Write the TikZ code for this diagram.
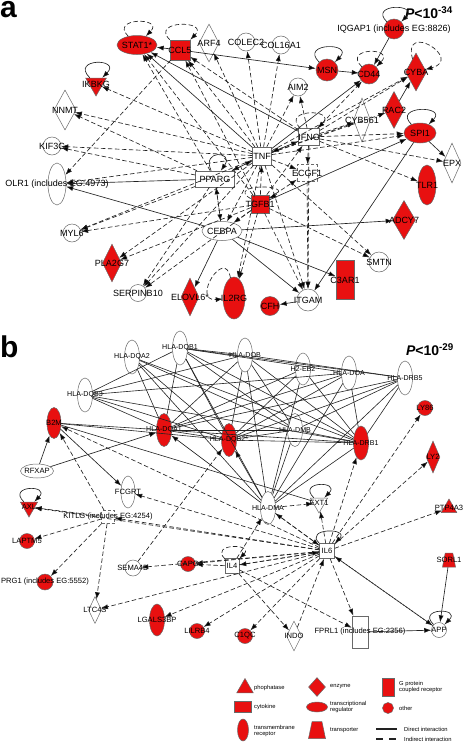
\documentclass[tikz,border=0pt]{standalone}
\usepackage{fontspec}
\setmainfont{Liberation Sans}
\usetikzlibrary{arrows.meta, shapes.geometric, positioning}
\definecolor{ipared}{RGB}{232,16,16}
\definecolor{edgeink}{RGB}{34,34,34}
\definecolor{rim}{RGB}{105,105,105}
\newcommand{\labA}{\fontsize{9}{9}\selectfont}
\newcommand{\labB}{\fontsize{7.6}{7.6}\selectfont}
\newcommand{\labH}{\fontsize{7.1}{7.1}\selectfont}
\newcommand{\labL}{\fontsize{5.8}{6.6}\selectfont}
\tikzset{
  mol/.style={draw=rim, line width=0.5pt, inner sep=0pt, fill=white},
  hit/.style={fill=ipared},
  circ/.style={mol, circle, minimum size=#1},
  ovl/.style 2 args={mol, ellipse, minimum width=#1, minimum height=#2},
  box/.style 2 args={mol, rectangle, minimum width=#1, minimum height=#2},
  dmd/.style 2 args={mol, diamond, minimum width=#1, minimum height=#2},
  kin/.style={mol, regular polygon, regular polygon sides=3, shape border rotate=180, minimum size=#1},
  phos/.style={mol, regular polygon, regular polygon sides=3, minimum size=#1},
  trans/.style 2 args={mol, trapezium, inner sep=1pt, trapezium stretches=true, trapezium left angle=70, trapezium right angle=70, minimum width=#1, minimum height=#2},
  dir/.style={draw=edgeink, line width=0.65pt, -{Latex[length=7pt,width=5pt]}},
  ind/.style={dir, dash pattern=on 4.5pt off 2.5pt},
  lnk/.style={draw=edgeink, line width=0.6pt},
  selfloop/.style={out=135, in=45, min distance=#1},
  legtext/.style={font=\labL, anchor=west, align=left, inner sep=0pt}
}

\begin{document}
\begin{tikzpicture}[x=1pt, y=-1pt]
  \useasboundingbox (0,0) rectangle (464,744);

  % Panel letters and scores
  \node[font=\fontsize{30}{30}\selectfont\bfseries, anchor=base west, inner sep=0pt] (tagA) at (0,17.5) {a};
  \node[font=\fontsize{30}{30}\selectfont\bfseries, anchor=base west, inner sep=0pt] (tagB) at (0,357) {b};
  \node[font=\fontsize{14}{14}\selectfont\bfseries] (scoreA) at (429,13) {\textit{P}<10\textsuperscript{-34}};
  \node[font=\fontsize{14}{14}\selectfont\bfseries] (scoreB) at (430,350) {\textit{P}<10\textsuperscript{-29}};

  % Panel a: molecules
  \begin{scope}[every label/.append style={font=\labA}]
    \node[ovl={40}{19}, hit, label={center:STAT1*}] (stat1) at (137,45) {};
    \node[box={20}{20}, hit, label={center:CCL5}] (ccl5) at (180,50) {};
    \node[dmd={20}{38}, label={center:ARF4}] (arf4) at (209,43) {};
    \node[circ=18, label={center:COLEC2}] (colec2) at (246,42) {};
    \node[circ=18, label={center:COL16A1}] (col16a1) at (281,45) {};
    \node[circ=20, hit, label={center:{IQGAP1 (includes EG:8826)}}] (iqgap1) at (394,29) {};
    \node[circ=22, hit, label={center:MSN}] (msn) at (327,70) {};
    \node[circ=20, hit, label={center:CD44}] (cd44) at (369,74) {};
    \node[dmd={21}{38}, hit, label={center:CYBA}] (cyba) at (416,72) {};
    \node[circ=18, label={center:AIM2}] (aim2) at (298,87) {};
    \node[dmd={20}{37}, hit, label={center:RAC2}] (rac2) at (394,110) {};
    \node[dmd={17}{44}, label={center:CYB561}] (cyb561) at (362,120) {};
    \node[box={21}{17}, label={center:IFNG}] (ifng) at (309,137) {};
    \node[ovl={32}{20}, hit, label={center:SPI1}] (spi1) at (420,133) {};
    \node[dmd={18}{40}, label={center:EPX}] (epx) at (452,163) {};
    \node[box={19}{18}, label={center:TNF}] (tnf) at (262,156) {};
    \node[box={20}{17}, densely dashed, label={center:ECGF1}] (ecgf1) at (307,173) {};
    \node[ovl={18}{40}, hit, label={center:TLR1}] (tlr1) at (427,185) {};
    \node[box={39}{16}, label={center:PPARG}] (pparg) at (215,179) {};
    \node[box={18}{18}, hit, label={center:TGFB1}] (tgfb1) at (260,204) {};
    \node[ovl={40}{19}, label={center:CEBPA}] (cebpa) at (222,231) {};
    \node[dmd={23}{39}, hit, label={center:ADCY7}] (adcy7) at (404,220) {};
    \node[circ=20, label={center:SMTN}] (smtn) at (379,262) {};
    \node[box={18}{39}, hit, label={center:C3AR1}] (c3ar1) at (345,280) {};
    \node[circ=22, label={center:ITGAM}] (itgam) at (308,300) {};
    \node[circ=19, hit, label={center:CFH}] (cfh) at (270,306) {};
    \node[ovl={22}{42}, hit, label={center:IL2RG}] (il2rg) at (234,298) {};
    \node[dmd={18}{38}, hit, label={center:ELOVL6*}] (elovl6) at (190,297) {};
    \node[circ=17, label={center:SERPINB10}] (serpinb10) at (138,293) {};
    \node[dmd={19}{38}, hit, label={center:PLA2G7}] (pla2g7) at (112,263) {};
    \node[circ=18, label={center:MYL6}] (myl6) at (72,233) {};
    \node[ovl={18}{42}, label={center:{OLR1 (includes EG:4973)}}] (olr1) at (57,184) {};
    \node[circ=18, label={center:KIF3C}] (kif3c) at (52,146) {};
    \node[dmd={22}{40}, label={center:NNMT}] (nnmt) at (65,110) {};
    \node[kin=24, hit, label={center:IKBKG}] (ikbkg) at (96,84) {};
  \end{scope}

  % Panel a: direct interactions
  \path[dir] (ccl5) edge (stat1) edge (msn)
    (msn) edge (cd44)
    (iqgap1) edge (cd44)
    (rac2) edge (cyba)
    (tnf) edge (cd44) edge (stat1)
    (ifng) edge (stat1)
    (spi1) edge (epx) edge (itgam)
    (tgfb1) edge (spi1)
    (pparg) edge (olr1)
    (cebpa) edge (olr1) edge (elovl6) edge (adcy7) edge (c3ar1) edge (itgam)
    (itgam) edge (cfh);

  % Panel a: indirect interactions
  \path[ind] (tnf) edge (ccl5) edge (arf4) edge (colec2) edge (col16a1) edge (aim2)
      edge (rac2) edge (cyba) edge (cyb561) edge (spi1) edge (ikbkg) edge (nnmt)
      edge (kif3c) edge (olr1) edge (myl6) edge (pla2g7) edge (serpinb10) edge (itgam)
      edge (smtn) edge (il2rg) edge (ifng) edge (pparg) edge (cebpa) edge (ecgf1)
    (ifng) edge (ccl5) edge (aim2) edge (cyb561) edge (spi1) edge (epx) edge (tlr1)
      edge (tnf) edge (cyba) edge (cd44) edge (ecgf1) edge (itgam)
    (tgfb1) edge (ccl5) edge (stat1) edge (pla2g7) edge (serpinb10) edge (itgam)
      edge (smtn) edge (tnf) edge (ecgf1) edge (cebpa) edge (il2rg) edge (myl6) edge (ifng)
    (pparg) edge (stat1) edge (tnf) edge (cebpa) edge (myl6) edge (serpinb10) edge (nnmt) edge (kif3c)
    (ccl5) edge (olr1)
    (cebpa) edge (pparg)
    (ecgf1) edge (itgam);

  % Panel a: self loops
  \path[ind] (stat1) edge[selfloop=27pt] (stat1)
    (ccl5) edge[selfloop=28pt] (ccl5)
    (cd44) edge[selfloop=28pt] (cd44)
    (ifng) edge[selfloop=28pt] (ifng)
    (tgfb1) edge[out=150, in=30, min distance=30pt] (tgfb1)
    (il2rg) edge[out=100, in=185, min distance=32pt] (il2rg)
    (cyba) edge[out=105, in=15, min distance=40pt] (cyba);
  \path[dir] (ikbkg) edge[selfloop=28pt] (ikbkg)
    (msn) edge[selfloop=28pt] (msn)
    (iqgap1) edge[selfloop=26pt] (iqgap1)
    (spi1) edge[selfloop=27pt] (spi1)
    (pparg) edge[out=115, in=55, min distance=24pt] (pparg);

  % Panel b: MHC class II cluster
  \begin{scope}[every label/.append style={font=\labH}]
    \node[ovl={15}{34}, label={center:HLA-DQB1}] (dqb1) at (180,348) {};
    \node[ovl={15}{34}, label={center:HLA-DQA2}] (dqa2) at (132,357) {};
    \node[ovl={15}{34}, label={center:HLA-DOB}] (dob) at (245,355) {};
    \node[ovl={15}{32}, label={center:H2-EB2}] (h2eb2) at (303,369) {};
    \node[ovl={15}{34}, label={center:HLA-DOA}] (doa) at (349,373) {};
    \node[ovl={15}{34}, label={center:HLA-DRB5}] (drb5) at (405,378) {};
    \node[ovl={15}{34}, label={center:HLA-DQB3}] (dqb3) at (85,395) {};
    \node[ovl={15}{33}, hit, label={center:HLA-DQA1}] (dqa1) at (164,430) {};
    \node[ovl={15}{33}, hit, label={center:HLA-DQB2*}] (dqb2) at (229,440) {};
    \node[ovl={15}{33}, label={center:HLA-DMB}] (dmb) at (295,430) {};
    \node[ovl={15}{34}, hit, label={center:HLA-DRB1}] (drb1) at (361,443) {};
    \node[ovl={15}{33}, label={center:HLA-DMA}] (dma) at (268,508) {};
  \end{scope}

  % Panel b: other molecules
  \begin{scope}[every label/.append style={font=\labB}]
    \node[ovl={14}{31}, hit, label={center:B2M}] (b2m) at (54,423) {};
    \node[ovl={33}{14}, label={center:RFXAP}] (rfxap) at (37,471) {};
    \node[ovl={14}{32}, label={center:FCGRT}] (fcgrt) at (128,492) {};
    \node[circ=15, hit, label={center:LY86}] (ly86) at (425,408) {};
    \node[dmd={14}{32}, hit, label={center:LY2}] (ly2) at (433,457) {};
    \node[phos=18, hit, label={center:PTP4A3}] (ptp4a3) at (449,508) {};
    \node[kin=20, label={center:EXT1}] (ext1) at (319,503) {};
    \node[kin=20, hit, label={center:AXL}] (axl) at (29,507) {};
    \node[box={13}{13}, densely dashed, label={center:{KITLG (includes EG:4254)}}] (kitlg) at (108,517) {};
    \node[circ=15, hit, label={center:LAPTM5}] (laptm5) at (27,541) {};
    \node[box={15}{15}, label={center:IL6}] (il6) at (327,551) {};
    \node[box={14}{15}, label={center:IL4}] (il4) at (232,566) {};
    \node[circ=15, hit, label={center:CAPG}] (capg) at (188,564) {};
    \node[circ=16, label={center:SEMA4D}] (sema4d) at (133,568) {};
    \node[circ=16, hit, label={center:{PRG1 (includes EG:5552)}}] (prg1) at (45,582) {};
    \node[dmd={13}{27}, label={center:LTC4S}] (ltc4s) at (95,610) {};
    \node[ovl={15}{32}, hit, label={center:LGALS3BP}] (lgals3bp) at (157,620) {};
    \node[circ=15, hit, label={center:LILRB4}] (lilrb4) at (197,631) {};
    \node[circ=15, hit, label={center:C1QC}] (c1qc) at (245,636) {};
    \node[dmd={15}{30}, label={center:INDO}] (indo) at (294,636) {};
    \node[box={16}{32}, label={center:{FPRL1 (includes EG:2356)}}] (fprl1) at (360,632) {};
    \node[circ=15, label={center:APP}] (app) at (439,630) {};
    \node[trans={13}{14}, hit, label={center:SORL1}] (sorl1) at (449,560) {};
  \end{scope}

  % Panel b: MHC links
  \path[lnk] (dqb1) edge (dqa1) edge (dqb2) edge (dmb) edge (drb1) edge (dma) edge (dqb3) edge (doa) edge (drb5) edge (dob)
    (dqa2) edge (dqa1) edge (dqb2) edge (drb1) edge (dma) edge (dmb)
    (dob) edge (dqa1) edge (dqb2) edge (drb1) edge (dma) edge (dmb) edge (dqb3) edge (drb5)
    (h2eb2) edge (dqa1) edge (dqb2) edge (dma) edge (drb1)
    (doa) edge (dqa1) edge (dqb2) edge (dma) edge (drb1) edge (dqb3)
    (drb5) edge (dqa1) edge (dqb2) edge (dma) edge (dmb) edge (drb1)
    (dqb3) edge (dqa1) edge (dqb2) edge (drb1)
    (dqa1) edge (dqb2) edge (dmb) edge (drb1)
    (dqb2) edge (dmb) edge (drb1)
    (dmb) edge (drb1) edge (dma)
    (dma) edge (drb1)
    (b2m) edge (dqa1) edge (dqb2) edge (ext1);

  % Panel b: direct interactions
  \path[dir] (rfxap) edge (b2m) edge (dqa1)
    (b2m) edge (fcgrt)
    (dma) edge (dqa1) edge (dqb2)
    (fprl1) edge (app)
    (sorl1) edge (app);

  % Panel b: indirect interactions
  \path[ind] (il6) edge (fcgrt) edge (axl) edge (kitlg) edge (b2m) edge (drb1) edge (ly86)
      edge (ly2) edge (ptp4a3) edge (ext1) edge (dma) edge (il4) edge (capg) edge (sema4d)
      edge (ltc4s) edge (lgals3bp) edge (lilrb4) edge (c1qc) edge (fprl1) edge (app)
    (kitlg) edge (axl) edge (laptm5) edge (prg1) edge (ltc4s) edge (b2m)
    (il4) edge (capg) edge (dma) edge (fprl1) edge (indo) edge (il6)
    (sema4d) edge (dqb2)
    (indo) edge (il6)
    (app) edge (il6)
    (dma) edge (ext1) edge (il6);

  % Panel b: self loops
  \path[dir] (axl) edge[selfloop=24pt] (axl)
    (ext1) edge[selfloop=24pt] (ext1)
    (app) edge[selfloop=24pt] (app)
    (il6) edge[selfloop=22pt] (il6);
  \path[ind] (il4) edge[selfloop=22pt] (il4);

  % Legend
  \node[phos=19, hit] (lgPhos) at (245,688) {};
  \node[legtext] (lgPhosT) at (254,688) {phophatase};
  \node[dmd={17}{19}, hit] (lgEnz) at (317,687) {};
  \node[legtext] (lgEnzT) at (330,687) {enzyme};
  \node[box={12}{18}, hit] (lgGpcr) at (388,687) {};
  \node[legtext] (lgGpcrT) at (399,687) {G protein\\coupled receptor};
  \node[box={17}{11}, hit] (lgCyto) at (243,707) {};
  \node[legtext] (lgCytoT) at (254,707) {cytokine};
  \node[ovl={21}{10}, hit] (lgTreg) at (317,707) {};
  \node[legtext] (lgTregT) at (330,707) {transcriptional\\regulator};
  \node[circ=11, hit] (lgOther) at (388,708) {};
  \node[legtext] (lgOtherT) at (399,708) {other};
  \node[ovl={11}{22}, hit] (lgTmr) at (243,730) {};
  \node[legtext] (lgTmrT) at (254,731) {transmembrane\\receptor};
  \node[trans={17}{17}, hit] (lgTrans) at (317,730) {};
  \node[legtext] (lgTransT) at (330,730) {transporter};
  \coordinate (lgDirA) at (376,729);
  \coordinate (lgDirB) at (397,729);
  \coordinate (lgIndA) at (376,739);
  \coordinate (lgIndB) at (397,739);
  \draw[edgeink, line width=1.6pt] (lgDirA) -- (lgDirB);
  \draw[edgeink, line width=1.6pt, dash pattern=on 7pt off 6pt] (lgIndA) -- (lgIndB);
  \node[legtext] (lgDirT) at (404,729) {Direct interaction};
  \node[legtext] (lgIndT) at (404,739) {Indirect interaction};
\end{tikzpicture}
\end{document}
